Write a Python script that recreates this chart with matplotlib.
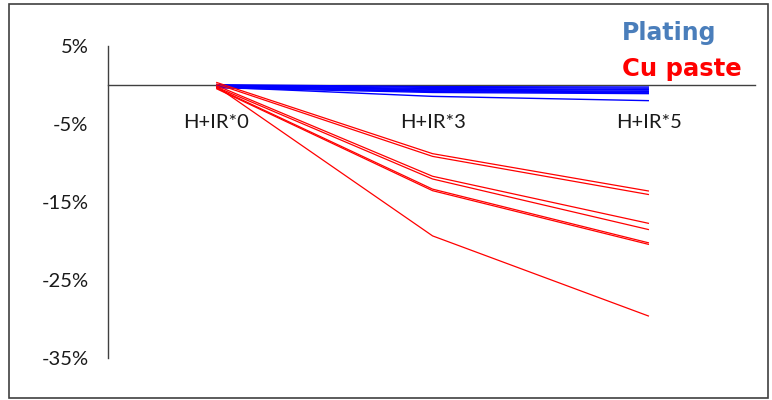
import matplotlib
matplotlib.use("Agg")
import matplotlib.pyplot as plt
from matplotlib.patches import Rectangle

categories = ["H+IR*0", "H+IR*3", "H+IR*5"]

# Plating (blue) series, percent change
plating = [
    [0.0, -0.25, -0.30],
    [-0.1, -0.35, -0.45],
    [-0.1, -0.5, -0.60],
    [-0.2, -0.6, -0.70],
    [-0.2, -0.7, -0.85],
    [-0.3, -0.8, -0.95],
    [-0.3, -0.9, -1.05],
    [-0.4, -1.0, -1.15],
    [-0.3, -1.5, -2.05],
]

# Cu paste (red) series, percent change
cu_paste = [
    [0.3, -8.85, -13.65],
    [0.1, -9.2, -14.1],
    [-0.1, -11.75, -17.8],
    [-0.3, -12.1, -18.6],
    [-0.4, -13.4, -20.3],
    [-0.5, -13.6, -20.5],
    [-0.2, -19.4, -29.7],
]

yticks = [5, -5, -15, -25, -35]
ytick_labels = ["5%", "-5%", "-15%", "-25%", "-35%"]

W, H = 772, 400
fig = plt.figure(figsize=(W / 100, H / 100), dpi=100)
ax = fig.add_axes([108 / W, 1 - 357.5 / H, (755 - 108) / W, (357.5 - 45.7) / H])

x = list(range(len(categories)))
for s in plating:
    ax.plot(x, s, color="#0000ff", lw=1.0, solid_capstyle="butt", zorder=3)
for s in cu_paste:
    ax.plot(x, s, color="#ff0000", lw=0.9, solid_capstyle="butt", zorder=4)

ax.set_xlim(-0.5, 2.49)
ax.set_ylim(-35, 5)

for side in ["top", "right"]:
    ax.spines[side].set_visible(False)
ax.spines["bottom"].set_position(("data", 0))
ax.spines["bottom"].set_color("#404040")
ax.spines["left"].set_color("#404040")
ax.spines["bottom"].set_linewidth(1.0)
ax.spines["left"].set_linewidth(1.0)

lab_font = dict(family=["Lato", "DejaVu Sans"], weight="normal", size=14.5)
ax.set_xticks(x)
ax.set_xticklabels(categories, color="#1a1a1a", **lab_font)
ax.set_yticks(yticks)
ax.set_yticklabels(ytick_labels, color="#1a1a1a", **lab_font)
ax.tick_params(axis="x", length=0, pad=21)
ax.tick_params(axis="y", length=0, pad=14)

# frame around the figure
fig.patches.append(Rectangle((9 / W, 1 - 398 / H), (768 - 9) / W, (398 - 4) / H,
                             transform=fig.transFigure, fill=False,
                             edgecolor="#404040", lw=1.2))

fig.text(622 / W, 1 - 33 / H, "Plating", color="#4a7ebb", fontsize=17,
         fontweight="bold", va="center", ha="left")
fig.text(622 / W, 1 - 69 / H, "Cu paste", color="#ff0000", fontsize=17.5,
         fontweight="bold", va="center", ha="left")

fig.savefig("out.png", dpi=100)
